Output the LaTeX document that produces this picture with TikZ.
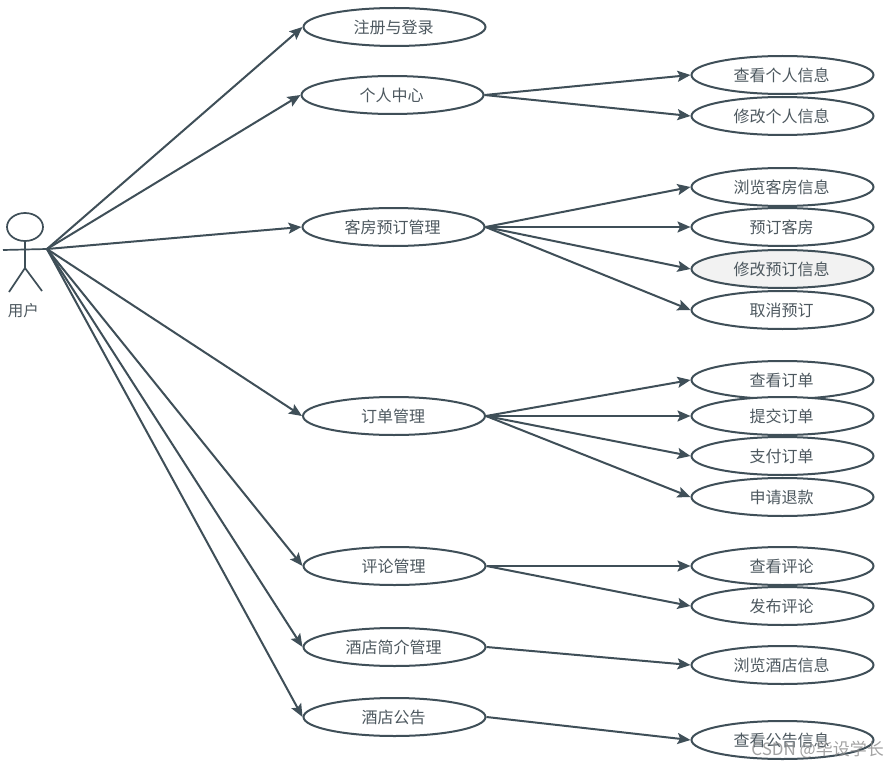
\documentclass[tikz,border=0pt]{standalone}
\usepackage{fontspec}
\setmainfont{Noto Sans CJK SC}
\usetikzlibrary{shapes.geometric,arrows.meta}
\definecolor{ln}{HTML}{3F4F58}
\definecolor{tx}{HTML}{4D585F}
\tikzset{
  uc/.style={draw=ln,line width=2pt,ellipse,minimum width=182pt,minimum height=38pt,inner sep=0pt,text=tx,font=\fontsize{16}{18}\selectfont,fill=white},
  ucsel/.style={uc,fill=black!5},
  conn/.style={draw=ln,line width=2pt,-{Stealth[length=13pt,width=11pt,inset=2.5pt]}},
  stick/.style={draw=ln,line width=1.7pt}
}
\begin{document}
\begin{tikzpicture}[x=1pt,y=-1pt]
\useasboundingbox (0,0) rectangle (886,765);
\fill[white] (0,0) rectangle (886,765);
% actor
\node[draw=ln,line width=1.7pt,ellipse,minimum width=36pt,minimum height=28pt,inner sep=0pt] (head) at (25,227) {};
\coordinate (waist) at (25,268);
\coordinate (armL) at (3,250);
\coordinate (hub) at (47,249);
\coordinate (legL) at (9,292);
\coordinate (legR) at (42,291);
\draw[stick] (head.south) -- (waist);
\draw[stick] (armL) -- (hub);
\draw[stick] (legL) -- (waist) -- (legR);
\node[text=tx,font=\fontsize{15.5}{17}\selectfont] (actorlabel) at (23.5,310.5) {用户};
% main cases
\node[uc] (a1) at (394.5,27) {\kern-2pt 注册与登录};
\node[uc] (a2) at (392.5,95) {\kern-2pt 个人中心};
\node[uc] (a3) at (393.5,227) {\kern-2pt 客房预订管理};
\node[uc] (a4) at (394,416) {\kern-2pt 订单管理};
\node[uc] (a5) at (394.5,566) {\kern-2pt 评论管理};
\node[uc] (a6) at (394.5,647) {\kern-2pt 酒店简介管理};
\node[uc] (a7) at (394.5,717) {\kern-2pt 酒店公告};
% sub cases
\node[uc] (b1) at (782.5,75) {\kern-2pt 查看个人信息};
\node[uc] (b2) at (782.5,116) {\kern-2pt 修改个人信息};
\node[uc] (c1) at (782.5,187) {\kern-2pt 浏览客房信息};
\node[uc] (c2) at (782.5,227) {\kern-2pt 预订客房};
\node[ucsel] (c3) at (782.5,269) {\kern-2pt 修改预订信息};
\node[uc] (c4) at (782.5,310) {\kern-2pt 取消预订};
\node[uc] (d1) at (782.5,380) {\kern-2pt 查看订单};
\node[uc] (d2) at (782.5,416) {\kern-2pt 提交订单};
\node[uc] (d3) at (782.5,456) {\kern-2pt 支付订单};
\node[uc] (d4) at (782.5,497) {\kern-2pt 申请退款};
\node[uc] (e1) at (782.5,566) {\kern-2pt 查看评论};
\node[uc] (e2) at (782.5,606) {\kern-2pt 发布评论};
\node[uc] (f1) at (782.5,665) {\kern-2pt 浏览酒店信息};
\node[uc] (g1) at (782.5,740) {\kern-2pt 查看公告信息};
% connectors
\foreach \t in {a1,a2,a3,a4,a5,a6,a7} \draw[conn] (hub) -- (\t.west);
\foreach \s/\t in {a2/b1,a2/b2,a3/c1,a3/c2,a3/c3,a3/c4,a4/d1,a4/d2,a4/d3,a4/d4,a5/e1,a5/e2,a6/f1,a7/g1}
  \draw[conn] (\s.east) -- (\t.west);
% watermark
\node[text=black!45,opacity=.8,font=\fontsize{17}{19}\selectfont,anchor=east,inner sep=0pt] (wm) at (884,750) {CSDN @毕设学长};
\end{tikzpicture}
\end{document}
